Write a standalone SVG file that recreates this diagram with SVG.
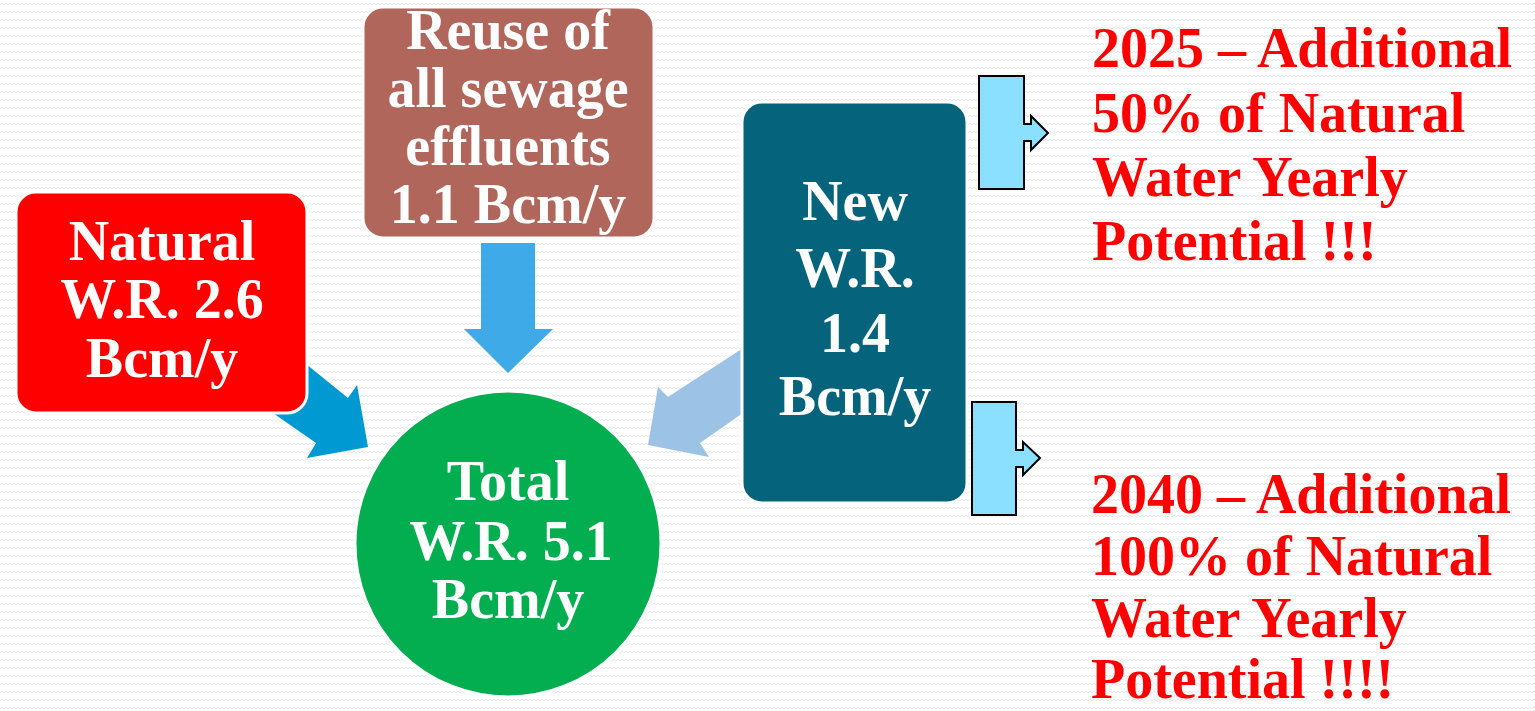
<svg xmlns="http://www.w3.org/2000/svg" width="1535" height="711" viewBox="0 0 1535 711">
<defs>
<pattern id="zz" width="8" height="8" patternUnits="userSpaceOnUse">
<rect width="8" height="8" fill="#fdfdfd"/>
<path d="M0 5 L2 3 L4 5 L6 3 L8 5" fill="none" stroke="#ececec" stroke-width="1"/>
</pattern>
<style>
.box{stroke:#ffffff;stroke-width:3}
.t{font-family:"Liberation Serif","DejaVu Serif",serif;font-weight:bold;font-size:56px;fill:#ffffff;text-anchor:middle}
.r{font-family:"Liberation Serif","DejaVu Serif",serif;font-weight:bold;font-size:56px;fill:#ff0000}
.call{fill:#8be0ff;stroke:#000000;stroke-width:2;stroke-linejoin:miter}
</style>
</defs>
<rect width="1535" height="711" fill="url(#zz)"/>

<g id="connectors">
<polygon points="481,243 535,243 535,329 553,329 508,373 464,329 481,329" fill="#3eaae8"/>
<polygon points="290,351 348,398 357,385 368,447 307,458 316,443 260,404" fill="#0099d1"/>
<polygon points="760,337 668,397 658,387 648,445 709,457 700,443 760,401" fill="#9cc3e5"/>
</g>

<g id="natural">
<rect class="box" x="16" y="192" width="291" height="221" rx="20" fill="#ff0000"/>
<text class="t" x="162" y="260">Natural</text>
<text class="t" x="162" y="318">W.R. 2.6</text>
<text class="t" x="162" y="377">Bcm/y</text>
</g>

<g id="reuse">
<rect class="box" x="363" y="7" width="291" height="231" rx="20" fill="#b0665a"/>
<text class="t" x="508" y="49">Reuse of</text>
<text class="t" x="508" y="107">all sewage</text>
<text class="t" x="508" y="165">effluents</text>
<text class="t" x="508" y="223">1.1 Bcm/y</text>
</g>

<g id="new">
<rect class="box" x="742" y="102" width="225" height="401" rx="20" fill="#05637b"/>
<text class="t" x="855" y="220">New</text>
<text class="t" x="855" y="287">W.R.</text>
<text class="t" x="855" y="352">1.4</text>
<text class="t" x="855" y="415">Bcm/y</text>
</g>

<g id="total">
<circle class="box" cx="508" cy="544" r="153" fill="#02ae50"/>
<text class="t" x="508" y="500">Total</text>
<text class="t" x="511" y="560">W.R. 5.1</text>
<text class="t" x="508" y="618">Bcm/y</text>
</g>

<g id="callout2025">
<polygon class="call" points="979,76 1024,76 1024,124 1031,124 1031,116 1048,133 1031,150 1031,141 1024,141 1024,189 979,189"/>
</g>

<g id="callout2040">
<polygon class="call" points="972,402 1016,402 1016,450 1023,450 1023,442 1040,458 1023,475 1023,467 1016,467 1016,515 972,515"/>
</g>

<g id="text2025">
<text class="r" x="1092" y="67">2025 – Additional</text>
<text class="r" x="1092" y="132">50% of Natural</text>
<text class="r" x="1092" y="196">Water Yearly</text>
<text class="r" x="1092" y="260">Potential !!!</text>
</g>

<g id="text2040">
<text class="r" x="1091" y="513">2040 – Additional</text>
<text class="r" x="1091" y="575">100% of Natural</text>
<text class="r" x="1091" y="637">Water Yearly</text>
<text class="r" x="1091" y="698">Potential !!!!</text>
</g>
</svg>
